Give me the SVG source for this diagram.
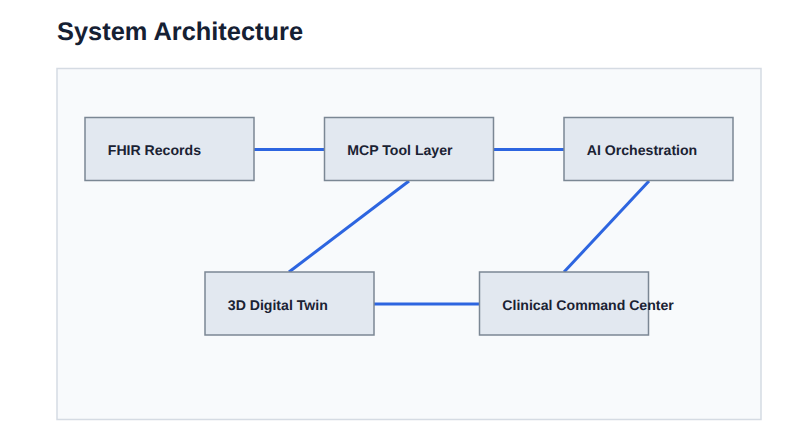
<svg xmlns="http://www.w3.org/2000/svg" width="806" height="429" viewBox="0 0 806 429">
<style>
text{font-family:"Liberation Sans",Arial,sans-serif;font-weight:700;text-rendering:geometricPrecision}
.n{fill:#e2e8f0;stroke:#7b8794;stroke-width:1.5}
.l{font-size:14.100px;fill:#1a2233}
.c{stroke:#2d65e0;stroke-width:3;fill:none}
</style>
<rect width="806" height="429" fill="#fff"/>
<text x="57" y="40" font-size="25.400" fill="#152033">System Architecture</text>
<rect x="57" y="68.500" width="704" height="351" fill="#f8fafc" stroke="#d5dbe3" stroke-width="1.500"/>
<g id="connectors">
<line class="c" x1="254" y1="149.500" x2="324" y2="149.500"/>
<line class="c" x1="494" y1="149.500" x2="564" y2="149.500"/>
<line class="c" x1="409" y1="181" x2="289" y2="272"/>
<line class="c" x1="649" y1="181" x2="564" y2="272"/>
<line class="c" x1="374" y1="304" x2="479" y2="304"/>
</g>
<g id="fhir"><rect class="n" x="85" y="117.500" width="169" height="63"/><text class="l" x="107.800" y="155.200">FHIR Records</text></g>
<g id="mcp"><rect class="n" x="324.500" y="117.500" width="169" height="63"/><text class="l" x="347.300" y="155.200">MCP Tool Layer</text></g>
<g id="ai"><rect class="n" x="564" y="117.500" width="169" height="63"/><text class="l" x="586.800" y="155.200">AI Orchestration</text></g>
<g id="twin"><rect class="n" x="205" y="272" width="169" height="63"/><text class="l" x="227.800" y="309.800">3D Digital Twin</text></g>
<g id="clinical"><rect class="n" x="479.500" y="272" width="169" height="63"/><text class="l" x="502.300" y="309.800">Clinical Command Center</text></g>
</svg>
